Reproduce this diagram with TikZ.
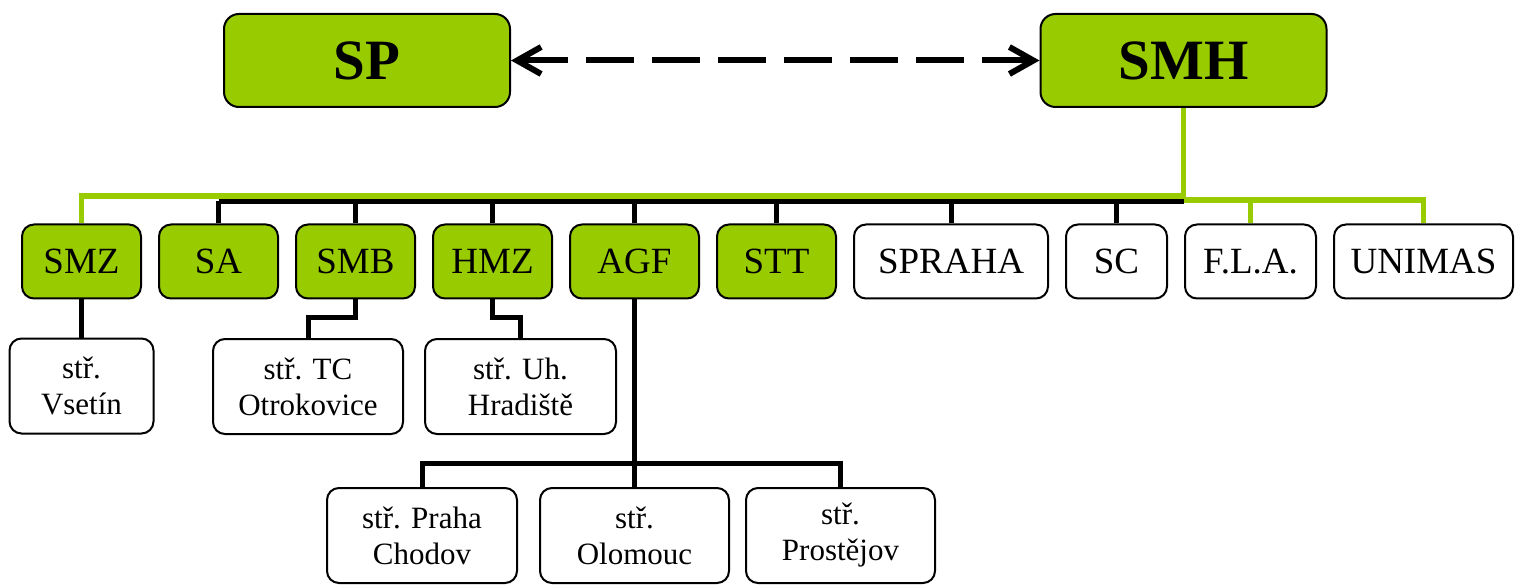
\documentclass[tikz,border=0pt]{standalone}
\usepackage{fontspec}
\setmainfont{Liberation Serif}
\usepackage{xcolor}
\usetikzlibrary{positioning,arrows.meta}
\definecolor{smhgreen}{RGB}{153,204,0}

\begin{document}
\begin{tikzpicture}[x=0.5pt, y=-0.5pt,
box/.style = {draw, line width=1pt, rounded corners=6pt, inner sep=0pt, minimum height=37pt, font=\fontsize{18.5}{22}\selectfont},
firm/.style = {box, fill=smhgreen},
top/.style = {box, fill=smhgreen, rounded corners=7.5pt, minimum width=143pt, minimum height=46.5pt, font=\fontsize{28.5}{32}\selectfont\bfseries},
branch/.style = {box, align=center, minimum height=47.5pt, font=\fontsize{15.5}{18}\selectfont},
tie/.style = {line width=2.5pt},
gtie/.style = {line width=2.8pt, draw=smhgreen},
>={Straight Barb[length=12pt,width=13.5pt]}
]
    \useasboundingbox (0,0) rectangle (1515,588);

    % bus levels
    \coordinate (gbus) at (0,196);
    \coordinate (rbus) at (0,200);
    \coordinate (kbus) at (0,201.5);
    \coordinate (elbow) at (0,317);
    \coordinate (agfbus) at (0,463);
    \coordinate (row3) at (0,386.5);
    \coordinate (row4) at (0,535.5);

    \node [top] (SP) at (367,60.5) {SP};
    \node [top] (SMH) at (1183.5,60.5) {SMH};

    \node [firm, minimum width=59.5pt] (SMZ) at (81.5,261.5) {SMZ};
    \node [firm, minimum width=59.5pt, right=8pt of SMZ] (SA) {SA};
    \node [firm, minimum width=59.5pt, right=8pt of SA] (SMB) {SMB};
    \node [firm, minimum width=59.5pt, right=8pt of SMB] (HMZ) {HMZ};
    \node [firm, minimum width=64.5pt, right=8pt of HMZ] (AGF) {AGF};
    \node [firm, minimum width=59.5pt, right=8pt of AGF] (STT) {STT};
    \node [box, minimum width=97pt, right=8pt of STT] (SPRAHA) {SPRAHA};
    \node [box, minimum width=50.5pt, right=8pt of SPRAHA] (SC) {SC};
    \node [box, minimum width=65.5pt, right=8pt of SC] (FLA) {F.L.A.};
    \node [box, minimum width=89.5pt, right=8pt of FLA] (UNIMAS) {UNIMAS};

    \node [branch, minimum width=72pt, below=19pt of SMZ] (vsetin) {stř.\\Vsetín};
    \node [branch, minimum width=95pt] (otrokovice) at (308,386.5) {stř. TC\\Otrokovice};
    \node [branch, minimum width=95.5pt] (hradiste) at (520.5,386.5) {stř. Uh.\\Hradiště};
    \node [branch, minimum width=95pt] (chodov) at (422,535.5) {stř. Praha\\Chodov};
    \node [branch, minimum width=94.5pt] (olomouc) at (AGF |- row4) {stř.\\Olomouc};
    \node [branch, minimum width=94.5pt] (prostejov) at (840.5,535.5) {stř.\\Prostějov};

    \draw [<->, line width=3pt, dash pattern=on 24pt off 9pt] (SP) -- (SMH);

    \draw [gtie] (SMH.south |- gbus) -| (SMZ.north);
    \draw [gtie] (SMH.south) -- (SMH.south |- rbus) -| (UNIMAS.north);
    \draw [gtie] (FLA.north) -- (FLA.north |- rbus);

    \draw [tie] (SA.north |- kbus) -- (SMH.south |- kbus);
    \foreach \firm in {SA,SMB,HMZ,AGF,STT,SPRAHA,SC}
        \draw [tie] (\firm.north) -- (\firm.north |- kbus);

    \draw [tie] (SMZ.south) -- (vsetin.north);
    \draw [tie] (SMB.south) |- (otrokovice.north |- elbow) -- (otrokovice.north);
    \draw [tie] (HMZ.south) |- (hradiste.north |- elbow) -- (hradiste.north);

    \draw [tie] (AGF.south) -- (olomouc.north);
    \draw [tie] (chodov.north) |- (prostejov.north |- agfbus) -- (prostejov.north);

\end{tikzpicture}
\end{document}
